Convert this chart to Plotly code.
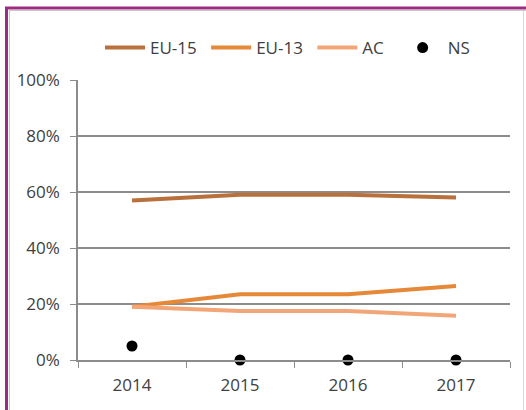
import plotly.graph_objects as go

years = ["2014", "2015", "2016", "2017"]
eu15 = [0.57, 0.59, 0.59, 0.58]
eu13 = [0.19, 0.235, 0.235, 0.264]
ac = [0.19, 0.175, 0.175, 0.158]
ns = [0.05, 0.0, 0.0, 0.0]
y_ticks = [0, 0.2, 0.4, 0.6, 0.8, 1.0]
y_labels = ["0%", "20%", "40%", "60%", "80%", "100%"]

FONT = "Open Sans"
TXT = "#404040"
NB = "\u00a0"

fig = go.Figure()
fig.add_trace(go.Scatter(x=years, y=eu15, name="EU-15" + NB, mode="lines",
                         line=dict(color="#B9703A", width=4)))
fig.add_trace(go.Scatter(x=years, y=eu13, name="EU-13" + NB, mode="lines",
                         line=dict(color="#E58838", width=4)))
fig.add_trace(go.Scatter(x=years, y=ac, name="AC" + NB * 2, mode="lines",
                         line=dict(color="#F2A678", width=4)))
fig.add_trace(go.Scatter(x=years, y=ns, name="NS", mode="markers",
                         marker=dict(color="black", size=11), cliponaxis=False))

L, R, T, B = 78, 16, 80, 50
W, H = 526, 410
pw, ph = W - L - R, H - T - B

def px(x):
    return (x - L) / pw

def py(y):
    return (H - B - y) / ph

shapes = [
    dict(type="line", xref="paper", yref="paper", x0=px(6.5), x1=px(6.5), y0=py(7), y1=py(410),
         line=dict(color="#9C2C80", width=3)),
    dict(type="line", xref="paper", yref="paper", x0=px(5), x1=px(526), y0=py(8), y1=py(8),
         line=dict(color="#9C2C80", width=3)),
    dict(type="line", xref="paper", yref="paper", x0=px(9.5), x1=px(9.5), y0=py(11), y1=py(410),
         line=dict(color="#C8C8C8", width=1)),
    dict(type="line", xref="paper", yref="paper", x0=px(9), x1=px(526), y0=py(10.5), y1=py(10.5),
         line=dict(color="#C8C8C8", width=1)),
    dict(type="line", xref="paper", yref="paper", x0=px(523.5), x1=px(523.5), y0=py(11), y1=py(410),
         line=dict(color="#D8D8D8", width=1)),
]

fig.update_layout(
    width=W, height=H,
    margin=dict(l=L, r=R, t=T, b=B),
    paper_bgcolor="white", plot_bgcolor="white",
    font=dict(family=FONT, size=17, color=TXT),
    showlegend=True,
    legend=dict(orientation="h", x=px(100), xanchor="left", y=py(48), yanchor="middle",
                font=dict(family=FONT, size=17, color=TXT),
                itemwidth=40, traceorder="normal"),
    shapes=shapes,
    xaxis=dict(type="category", range=[-0.5, 3.5], showgrid=False,
               showline=True, linecolor="#8C8C8C", linewidth=1.5,
               ticks="outside", tickson="boundaries", ticklen=6, tickcolor="#8C8C8C",
               ticklabelstandoff=9,
               tickfont=dict(family=FONT, size=17, color=TXT), fixedrange=True),
    yaxis=dict(range=[0, 1.0], tickvals=y_ticks, ticktext=y_labels,
               showgrid=True, gridcolor="#8C8C8C", gridwidth=1.5,
               showline=True, linecolor="#8C8C8C", linewidth=1.5,
               ticks="outside", ticklen=6, tickcolor="#8C8C8C",
               ticklabelstandoff=7,
               zeroline=False,
               tickfont=dict(family=FONT, size=17, color=TXT), fixedrange=True),
)

fig.write_html("out.html", config={"displayModeBar": False},
               post_script="document.body.style.margin='0';document.body.style.overflow='hidden';")
